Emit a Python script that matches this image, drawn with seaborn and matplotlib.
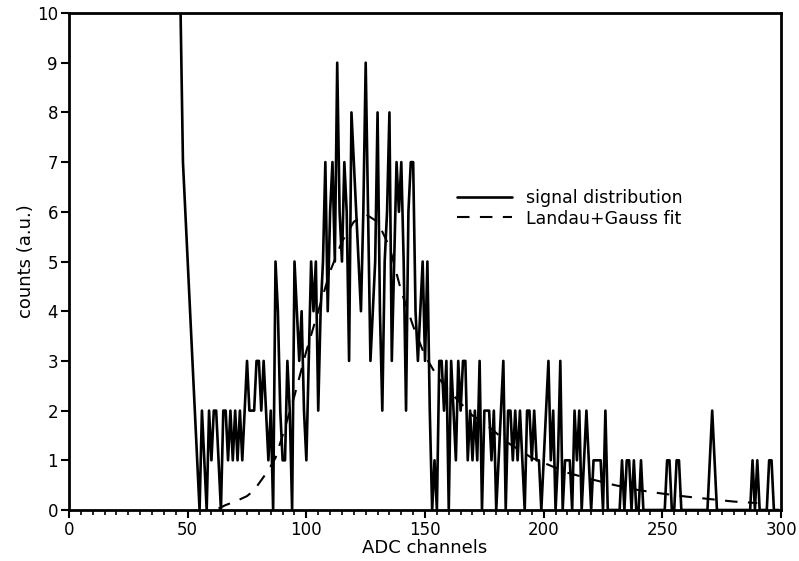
import numpy as np
import pandas as pd
import matplotlib
matplotlib.use("Agg")
import matplotlib.pyplot as plt
import seaborn as sns
from matplotlib.ticker import MultipleLocator

# ---- data ----
first_channel = 46
counts = [
    12, 10, 7, 6, 5, 4, 3, 2, 1, 0,      # 46-55
    2, 1, 0, 2, 1, 2, 2, 1, 0, 2,        # 56-65
    2, 1, 2, 1, 2, 1, 2, 1, 2, 3,        # 66-75
    2, 2, 2, 3, 3, 2, 3, 2, 1, 2,        # 76-85
    0, 5, 4, 2, 1, 1, 3, 2, 0, 5,        # 86-95
    4, 3, 4, 2, 1, 3, 5, 4, 5, 2,        # 96-105
    4, 5, 7, 4, 6, 7, 5, 9, 6, 5,        # 106-115
    7, 6, 3, 8, 7, 6, 5, 4, 6, 9,        # 116-125
    6, 3, 4, 5, 8, 4, 2, 5, 6, 8,        # 126-135
    3, 5, 7, 6, 7, 5, 2, 6, 7, 7,        # 136-145
    4, 3, 4, 5, 3, 5, 2, 0, 1, 0,        # 146-155
    3, 3, 2, 3, 0, 3, 2, 1, 3, 2,        # 156-165
    3, 3, 1, 2, 1, 2, 1, 3, 0, 2,        # 166-175
    2, 2, 1, 2, 0, 1, 2, 3, 0, 2,        # 176-185
    2, 1, 2, 1, 2, 1, 0, 2, 2, 1,        # 186-195
    2, 1, 1, 0, 1, 2, 3, 1, 2, 0,        # 196-205
    1, 3, 0, 1, 1, 1, 0, 2, 1, 2,        # 206-215
    0, 1, 2, 1, 0, 1, 1, 1, 1, 0,        # 216-225
    2, 0, 0, 0, 0, 0, 0, 1, 0, 1,        # 226-235
    1, 0, 1, 0, 0, 1, 0, 0, 0, 0,        # 236-245
    0, 0, 0, 0, 0, 0, 1, 1, 0, 0,        # 246-255
    1, 1, 0, 0, 0, 0, 0, 0, 0, 0,        # 256-265
    0, 0, 0, 0, 1, 2, 1, 0, 0, 0,        # 266-275
    0, 0, 0, 0, 0, 0, 0, 0, 0, 0,        # 276-285
    0, 0, 1, 0, 1, 0, 0, 0, 0, 1,        # 286-295
    1, 0, 0, 0,                          # 296-299
]
channels = list(range(first_channel, first_channel + len(counts)))

fit_channels = [63, 66, 70, 75, 78, 81, 84, 87, 90, 95, 100, 105, 110, 115,
                120, 125, 130, 135, 140, 145, 150, 155, 160, 165, 170, 175,
                180, 185, 190, 195, 200, 210, 220, 230, 240, 250, 260, 270,
                280, 290]
fit_counts = [0.03, 0.1, 0.17, 0.28, 0.4, 0.6, 0.8, 1.05, 1.5, 2.3, 3.2, 4.0,
              4.8, 5.4, 5.8, 5.95, 5.8, 5.3, 4.4, 3.7, 3.1, 2.7, 2.4, 2.15,
              1.9, 1.75, 1.55, 1.35, 1.2, 1.05, 0.95, 0.75, 0.62, 0.5, 0.4,
              0.33, 0.27, 0.22, 0.17, 0.14]

x_label = "ADC channels"
y_label = "counts (a.u.)"
legend_labels = ["signal distribution", "Landau+Gauss fit"]

sig = pd.DataFrame({"ch": channels, "n": counts})
fit = pd.DataFrame({"ch": fit_channels, "n": fit_counts})

sns.set_theme(style="ticks")
plt.rcParams["font.family"] = ["DejaVu Sans"]

fig = plt.figure(figsize=(7.99, 5.61), dpi=100)
ax = fig.add_axes([0.0864, 0.0909, 0.8911, 0.8859])

sns.lineplot(data=sig, x="ch", y="n", ax=ax, color="black", lw=1.9,
             label=legend_labels[0], estimator=None)
sns.lineplot(data=fit, x="ch", y="n", ax=ax, color="black", lw=1.5,
             linestyle=(0, (6, 5)), label=legend_labels[1], estimator=None)

ax.set_xlim(0, 300)
ax.set_ylim(0, 10)
ax.xaxis.set_major_locator(MultipleLocator(50))
ax.xaxis.set_minor_locator(MultipleLocator(5))
ax.yaxis.set_major_locator(MultipleLocator(1))
ax.tick_params(axis="both", which="major", direction="out", length=6,
               width=1.5, labelsize=12, colors="black", pad=2)
ax.tick_params(axis="x", which="minor", direction="out", length=3.5,
               width=1.2, colors="black")
for s in ax.spines.values():
    s.set_visible(True)
    s.set_linewidth(2)
    s.set_color("black")

ax.set_xlabel(x_label, fontsize=13, labelpad=0, color="black")
ax.set_ylabel(y_label, fontsize=13, labelpad=1, color="black")

leg = ax.legend(loc="upper left", bbox_to_anchor=(0.535, 0.66), frameon=False,
                fontsize=12.5, handlelength=3.2, handletextpad=0.8,
                labelspacing=0.15, borderaxespad=0)
for t in leg.get_texts():
    t.set_color("black")

fig.savefig("out.png", dpi=100)
